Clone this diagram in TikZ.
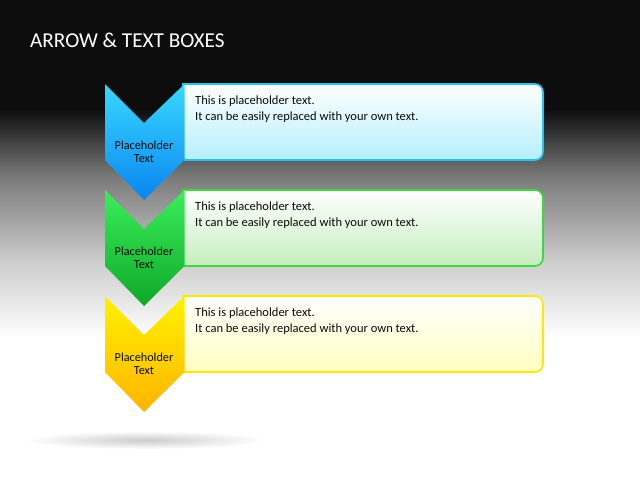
\documentclass[tikz,border=0pt]{standalone}
\usepackage{fontspec}
\setmainfont{Carlito}
\usepackage{tikz}
\usetikzlibrary{positioning,shapes.geometric}

\definecolor{bgblack}{HTML}{0D0D0D}
\definecolor{bgmid}{HTML}{787878}
\definecolor{bglight}{HTML}{CCCCCC}
\definecolor{txtdark}{HTML}{0A0A0A}
% chevron and box colours, one set per row
\definecolor{chevtopA}{HTML}{38D8FF}
\definecolor{chevbotA}{HTML}{0A86F0}
\definecolor{boxlineA}{HTML}{22C5EE}
\definecolor{boxbotA}{HTML}{B5EEFF}
\definecolor{chevtopB}{HTML}{3AEE5A}
\definecolor{chevbotB}{HTML}{0FA82A}
\definecolor{boxlineB}{HTML}{3DD83D}
\definecolor{boxbotB}{HTML}{C5EEBE}
\definecolor{chevtopC}{HTML}{FFF200}
\definecolor{chevbotC}{HTML}{FFB400}
\definecolor{boxlineC}{HTML}{FFE800}
\definecolor{boxbotC}{HTML}{FFFFC0}

\tikzset{
  boxtext/.style={anchor=north west, align=left, text=txtdark,
    font=\fontsize{12.5}{16}\selectfont, inner sep=0pt},
  chevtext/.style={align=center, text=txtdark,
    font=\fontsize{12.2}{13.5}\selectfont, inner sep=0pt}
}

\begin{document}
\begin{tikzpicture}[x=1pt,y=-1pt]
\useasboundingbox (0,0) rectangle (640,480);
% background
\fill[bgblack] (0,0) rectangle (640,110);
\shade[top color=bgblack, bottom color=bgmid] (0,109.5) rectangle (640,175.5);
\shade[top color=bgmid, bottom color=bglight] (0,175) rectangle (640,260.5);
\shade[top color=bglight, bottom color=white] (0,260) rectangle (640,337.5);
\fill[white] (0,337) rectangle (640,480);
% shadow
\shade[inner color=black!20, outer color=white] (145,440) ellipse [x radius=120, y radius=9];

\node[anchor=base west, text=white, font=\fontsize{21.2}{25}\selectfont, inner sep=0pt] (title) at (30,47) {ARROW \& TEXT BOXES};

\foreach \i/\c in {0/A,1/B,2/C} {
  \pgfmathsetmacro{\yy}{84+106*\i}
  % text box, rounded on the right
  \draw[line width=1.6pt, draw=boxline\c, top color=white, bottom color=boxbot\c]
    (183,\yy) -- (535,\yy) arc[start angle=-90, end angle=0, radius=8]
    -- (543,\yy+68) arc[start angle=0, end angle=90, radius=8]
    -- (183,\yy+76) -- cycle;
  % chevron
  \shade[top color=chevtop\c, bottom color=chevbot\c]
    (105,\yy) -- (144,\yy+39) -- (184.5,\yy) -- (184.5,\yy+76) -- (144,\yy+116) -- (105,\yy+76) -- cycle;
  \node[chevtext] (lbl\c) at (144,\yy+68) {Placeholder\\Text};
  \node[boxtext] (txt\c) at (195,\yy+12) {This is placeholder text.\\It can be easily replaced with your own text.};
}
\end{tikzpicture}
\end{document}
